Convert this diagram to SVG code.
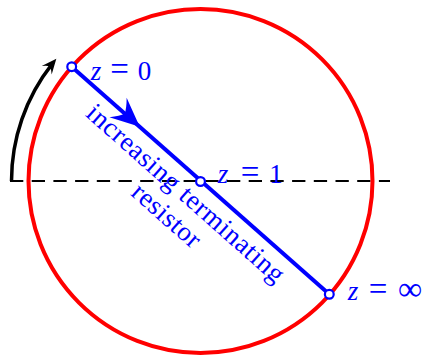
<svg xmlns="http://www.w3.org/2000/svg" width="422" height="356" viewBox="0 0 422 356">
<style>
.lbl{font-family:"Liberation Serif","Times New Roman",serif;font-size:27px;fill:#0000ff;text-anchor:middle}
.it{font-style:italic}
.eq{font-size:33px}
.node{fill:#ffffff;stroke:#0000ff;stroke-width:2.2}
.rot{font-family:"Liberation Serif","Times New Roman",serif;font-size:27px;fill:#0000ff;text-anchor:middle}
</style>
<rect width="422" height="356" fill="#ffffff"/>
<g id="axis">
<path d="M10 181 H390" stroke="#000000" stroke-width="2" stroke-dasharray="13.3 8.4" fill="none"/>
</g>
<g id="smith-circle">
<circle cx="200.5" cy="181" r="172" fill="none" stroke="#ff0000" stroke-width="4"/>
</g>
<g id="connectors">
<path d="M71.7 66.7 L329.3 294.3" stroke="#0000ff" stroke-width="4" fill="none"/>
<path d="M1 0 L-28 -13 Q-21 -5 -19 0 Q-21 5 -28 13 Z" fill="#0000ff" transform="translate(139 126) rotate(41.5)"/>
<path d="M11.5 181 A189 189 0 0 1 52 64.2" stroke="#000000" stroke-width="3.5" fill="none"/>
<path d="M1 0 L-14 -6.5 Q-10 -2.5 -9 0 Q-10 2.5 -14 6.5 Z" fill="#000000" transform="translate(55.7 59.5) rotate(-50)"/>
</g>
<g id="label-text">
<g transform="translate(200.5 181) rotate(41.5)">
<text class="rot" x="-3" y="27.7" textLength="255" lengthAdjust="spacing">increasing terminating</text>
<text class="rot" x="-2.5" y="57" textLength="83" lengthAdjust="spacing">resistor</text>
</g>
</g>
<g id="z0">
<circle class="node" cx="71.7" cy="66.7" r="4.4"/>
<text class="lbl" y="79.5"><tspan class="it" x="96">z</tspan><tspan class="eq" x="119.5">=</tspan><tspan x="144.5">0</tspan></text>
</g>
<g id="z1">
<circle class="node" cx="200.5" cy="181.5" r="4.4"/>
<text class="lbl" y="182.5"><tspan class="it" x="223">z</tspan><tspan class="eq" x="250">=</tspan><tspan x="276">1</tspan></text>
</g>
<g id="zinf">
<circle class="node" cx="329.3" cy="294.3" r="4.4"/>
<text class="lbl" y="299.5"><tspan class="it" x="353">z</tspan><tspan class="eq" x="378">=</tspan><tspan x="410" font-size="34">∞</tspan></text>
</g>
</svg>
